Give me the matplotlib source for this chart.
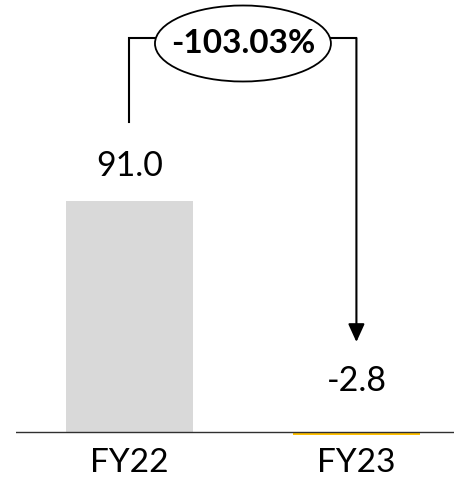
import matplotlib
matplotlib.use("Agg")
import matplotlib.pyplot as plt
from matplotlib.patches import Ellipse

# data
categories = ["FY22", "FY23"]
values = [91.0, -2.8]
bar_colors = ["#D9D9D9", "#FFC000"]
value_labels = ["91.0", "-2.8"]
change_label = "-103.03%"

plt.rcParams["font.family"] = ["Lato", "DejaVu Sans"]

W, H = 454, 482
fig = plt.figure(figsize=(W / 100, H / 100), dpi=100)

# axes box in pixels: x 16..454, y 0..435 (from top)
px_per_unit = 231 / 91.0
ax_bottom_px = 435
zero_px = 432
ax = fig.add_axes([16 / W, (H - ax_bottom_px) / H, (W - 16) / W, ax_bottom_px / H])
ax.set_ylim(-(ax_bottom_px - zero_px) / px_per_unit, zero_px / px_per_unit)
ax.set_xlim(-0.5, 1.43)

x = list(range(len(categories)))
ax.bar(x, values, width=0.56, color=bar_colors, zorder=2)
ax.axhline(0, color="#303030", lw=1.0, zorder=3)

for s in ax.spines.values():
    s.set_visible(False)
ax.set_yticks([])
ax.set_xticks(x, categories)
ax.tick_params(axis="x", length=0, pad=9, labelsize=24)

# value labels above the bars
offsets_px = [35, 51]
for i, v in enumerate(values):
    base = max(v, 0)
    ax.annotate(value_labels[i], (x[i], base), xytext=(0, offsets_px[i] * 0.72),
                textcoords="offset points", ha="center", va="center", fontsize=24.5)

# change connector with ellipse
y_low = (432 - 122) / px_per_unit
y_top = (432 - 38) / px_per_unit
y_tip = (432 - 342) / px_per_unit
mid = (x[0] + x[1]) / 2
ell_y = (432 - 43.5) / px_per_unit
ax.plot([x[0], x[0], mid], [y_low, y_top, y_top], color="black", lw=1.5,
        solid_joinstyle="miter", zorder=3)
ax.plot([mid, x[1]], [y_top, y_top], color="black", lw=1.5,
        solid_joinstyle="miter", zorder=3)
ax.annotate("", xy=(x[1], y_tip), xytext=(x[1], y_top),
            arrowprops=dict(arrowstyle="-|>,head_length=0.55,head_width=0.25",
                            mutation_scale=20, color="black", lw=1.5,
                            shrinkA=0, shrinkB=0), zorder=3)
ell = Ellipse((mid, ell_y), width=176 / 227, height=76 / px_per_unit,
              facecolor="white", edgecolor="black", lw=1.3, zorder=4)
ax.add_patch(ell)
ax.text(mid, ell_y, change_label, ha="center", va="center",
        fontsize=24, fontweight="bold", zorder=5)

fig.savefig("out.png", dpi=100)
